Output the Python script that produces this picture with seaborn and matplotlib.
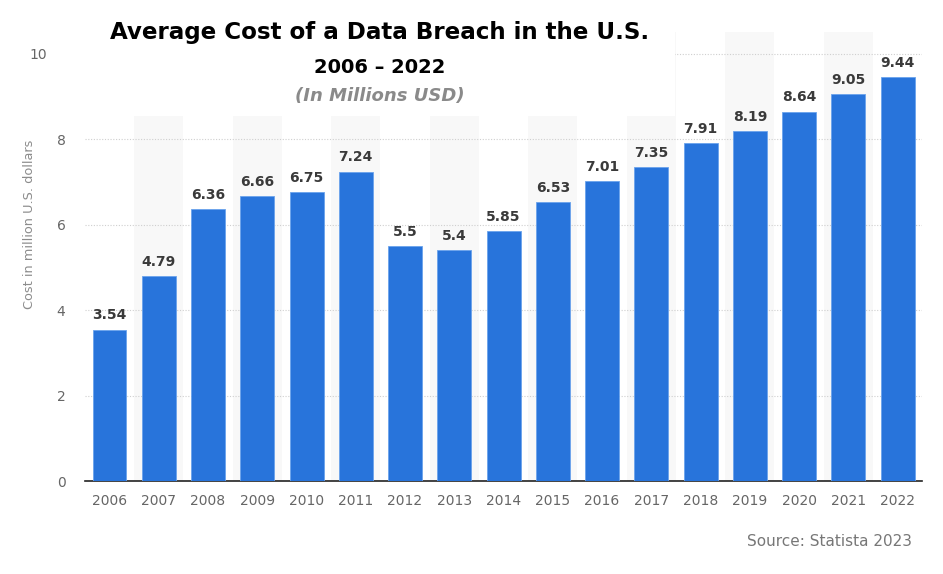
import numpy as np
import pandas as pd
import matplotlib.pyplot as plt
import seaborn as sns
from matplotlib.patches import Rectangle
from matplotlib.transforms import ScaledTranslation

# data
years = [str(y) for y in range(2006, 2023)]
cost = [3.54, 4.79, 6.36, 6.66, 6.75, 7.24, 5.5, 5.4, 5.85, 6.53,
        7.01, 7.35, 7.91, 8.19, 8.64, 9.05, 9.44]
y_ticks = [0, 2, 4, 6, 8, 10]

df = pd.DataFrame({"year": years, "cost": cost})

sns.set_style("white")
plt.rcParams['font.family'] = ['DejaVu Sans']

fig = plt.figure(figsize=(9.43, 5.74), dpi=100)
ax = fig.add_axes([0.090, 0.162, 0.888, 0.782])

# alternating light bands behind every other year
for i in range(1, len(years), 2):
    ax.axvspan(i - 0.5, i + 0.5, color="#f8f8f8", zorder=0, lw=0)

sns.barplot(data=df, x="year", y="cost", color="#2874DB", saturation=1,
            width=0.69, edgecolor="#6aa3ec", linewidth=0.6, ax=ax, zorder=3)

for i, v in enumerate(cost):
    ax.text(i, v + 0.17, f"{v:g}", ha="center", va="bottom", fontsize=10,
            fontweight="bold", color="#3a3a3a", zorder=5)

ax.set_ylim(0, 10.5)
ax.set_xlim(-0.5, len(years) - 0.5)
ax.set_yticks(y_ticks)
ax.yaxis.grid(True, linestyle=(0, (1, 1.5)), color="#cfcfcf", lw=0.8, zorder=1)
ax.set_axisbelow(True)
for s in ["top", "right", "left"]:
    ax.spines[s].set_visible(False)
ax.spines["bottom"].set_color("#222222")
ax.spines["bottom"].set_linewidth(1.2)
ax.tick_params(axis="both", length=0, colors="#666666", labelsize=10)
ax.tick_params(axis="x", pad=9)
ax.tick_params(axis="y", pad=14)
ax.set_xlabel("")
ax.set_ylabel("")
# the "10" label sits further left in the original
top_lbl = ax.get_yticklabels()[-1]
top_lbl.set_transform(top_lbl.get_transform() + ScaledTranslation(-0.18, 0, fig.dpi_scale_trans))

fig.text(0.031, 0.61, "Cost in million U.S. dollars", rotation=90, ha="center", va="center",
         color="#8c8c8c", fontsize=9.3)

# white box behind the title
ax.add_patch(Rectangle((0, 0.813), 0.705, 0.3, transform=ax.transAxes,
                       facecolor="white", edgecolor="none", zorder=4, clip_on=False))

fig.text(0.403, 0.944, "Average Cost of a Data Breach in the U.S.", ha="center", va="center",
         fontsize=16.6, fontweight="bold", color="black", zorder=6)
fig.text(0.403, 0.883, "2006 \u2013 2022", ha="center", va="center",
         fontsize=14, fontweight="bold", color="black", zorder=6)
fig.text(0.403, 0.833, "(In Millions USD)", ha="center", va="center",
         fontsize=13, fontstyle="italic", fontweight="bold", color="#8a8a8a", zorder=6)
fig.text(0.967, 0.056, "Source: Statista 2023", ha="right", va="center",
         fontsize=11, color="#777777")

plt.savefig("out.png", dpi=100)
plt.close()
